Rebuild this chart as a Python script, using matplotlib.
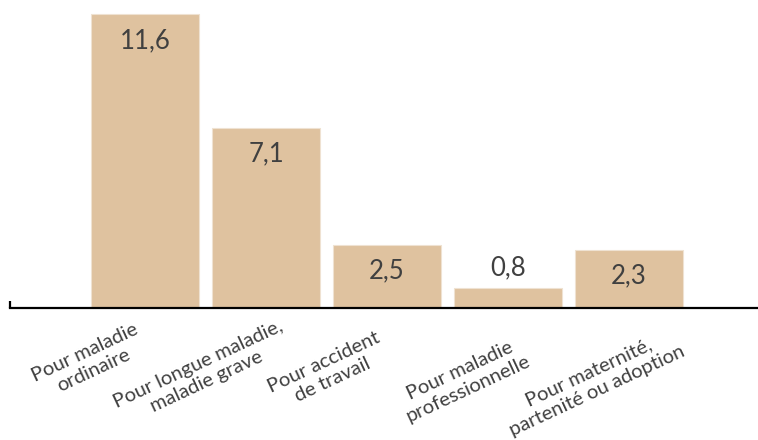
import numpy as np
import matplotlib
matplotlib.use("Agg")
import matplotlib.pyplot as plt

categories = [
    "Pour maladie\nordinaire",
    "Pour longue maladie,\nmaladie grave",
    "Pour accident\nde travail",
    "Pour maladie\nprofessionnelle",
    "Pour maternité,\npartenité ou adoption",
]
values = [11.6, 7.1, 2.5, 0.8, 2.3]
value_labels = ["11,6", "7,1", "2,5", "0,8", "2,3"]

# where each rotated category label sits, in pixels from the bar foot
label_dx = [-56, -64, -59, -44, -36]
label_dy = [-54, -65, -63, -72, -74]

plt.rcParams["font.family"] = ["Lato", "DejaVu Sans"]

fig = plt.figure(figsize=(7.58, 4.40), dpi=100)
ax = fig.add_axes([10 / 758, 132 / 440, 748 / 758, 308 / 440])

x = np.arange(len(values))
ax.bar(x, values, width=0.89, color="#dfc29f", edgecolor="#efe2d2", linewidth=0.8)

ax.set_xlim(-1.116, 5.066)
ax.set_ylim(0, 12.17)

px = 12.17 / 308  # data units per pixel
for xi, v, lab in zip(x, values, value_labels):
    if v > 1.5:
        y = v - 26 * px
    else:
        y = v + 20 * px
    ax.text(xi, y, lab, ha="center", va="center", fontsize=18.5,
            color="#404040")

for xi, cat, dx, dy in zip(x, categories, label_dx, label_dy):
    ax.annotate(cat, xy=(xi, 0), xycoords=("data", "axes fraction"),
                xytext=(dx, dy), textcoords="offset pixels",
                ha="center", va="center", rotation=25,
                rotation_mode="anchor", multialignment="center",
                fontsize=14.5, color="#404040", linespacing=1.18,
                annotation_clip=False)

for s in ["top", "right", "left"]:
    ax.spines[s].set_visible(False)
ax.spines["bottom"].set_linewidth(1.6)
ax.spines["bottom"].set_color("black")
ax.plot([0, 0], [0, 0.022], transform=ax.transAxes, color="black",
        lw=1.6, clip_on=False, solid_capstyle="butt")

ax.set_yticks([])
ax.set_xticks([])

fig.savefig("out.png", dpi=100)
